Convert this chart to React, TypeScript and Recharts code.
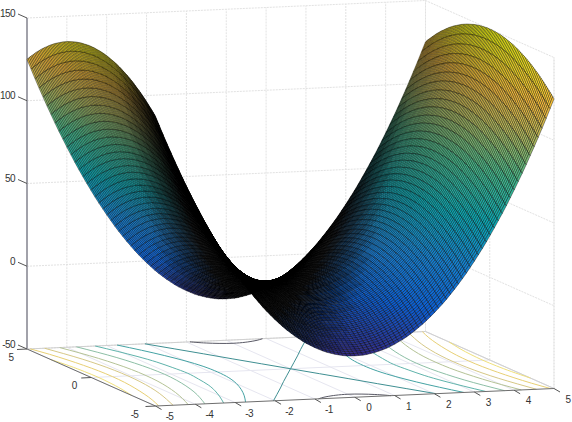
import { ComposedChart, Line, Scatter, XAxis, YAxis } from "recharts";

// grid positions of the mesh, read along the x and y axes
const meshSteps = [
  -5, -4.9, -4.8, -4.7, -4.6, -4.5, -4.4, -4.3, -4.2, -4.1, -4, -3.9, -3.8, -3.7, -3.6, -3.5, -3.4,
  -3.3, -3.2, -3.1, -3, -2.9, -2.8, -2.7, -2.6, -2.5, -2.4, -2.3, -2.2, -2.1, -2, -1.9, -1.8, -1.7,
  -1.6, -1.5, -1.4, -1.3, -1.2, -1.1, -1, -0.9, -0.8, -0.7, -0.6, -0.5, -0.4, -0.3, -0.2, -0.1, 0,
  0.1, 0.2, 0.3, 0.4, 0.5, 0.6, 0.7, 0.8, 0.9, 1, 1.1, 1.2, 1.3, 1.4, 1.5, 1.6, 1.7, 1.8, 1.9, 2,
  2.1, 2.2, 2.3, 2.4, 2.5, 2.6, 2.7, 2.8, 2.9, 3, 3.1, 3.2, 3.3, 3.4, 3.5, 3.6, 3.7, 3.8, 3.9, 4,
  4.1, 4.2, 4.3, 4.4, 4.5, 4.6, 4.7, 4.8, 4.9, 5,
];

// height of the surface along y = 0, one value per mesh step in x
const heightAlongX = [
  150, 144.1, 138.2, 132.5, 127, 121.5, 116.2, 110.9, 105.8, 100.9, 96, 91.3, 86.6, 82.1, 77.8, 73.5,
  69.4, 65.3, 61.4, 57.7, 54, 50.5, 47, 43.7, 40.6, 37.5, 34.6, 31.7, 29, 26.5, 24, 21.7, 19.4, 17.3,
  15.4, 13.5, 11.8, 10.1, 8.6, 7.3, 6, 4.9, 3.8, 2.9, 2.2, 1.5, 1, 0.5, 0.2, 0.1, 0,
  0.1, 0.2, 0.5, 1, 1.5, 2.2, 2.9, 3.8, 4.9, 6, 7.3, 8.6, 10.1, 11.8, 13.5, 15.4, 17.3, 19.4, 21.7,
  24, 26.5, 29, 31.7, 34.6, 37.5, 40.6, 43.7, 47, 50.5, 54, 57.7, 61.4, 65.3, 69.4, 73.5, 77.8, 82.1,
  86.6, 91.3, 96, 100.9, 105.8, 110.9, 116.2, 121.5, 127, 132.5, 138.2, 144.1, 150,
];

// drop of the surface along x = 0, one value per mesh step in y
const dropAlongY = [
  -25, -24, -23, -22.1, -21.2, -20.3, -19.4, -18.5, -17.6, -16.8, -16, -15.2, -14.4, -13.7, -13, -12.3,
  -11.6, -10.9, -10.2, -9.6, -9, -8.4, -7.8, -7.3, -6.8, -6.3, -5.8, -5.3, -4.8, -4.4, -4, -3.6, -3.2,
  -2.9, -2.6, -2.3, -2, -1.7, -1.4, -1.2, -1, -0.8, -0.6, -0.5, -0.4, -0.3, -0.2, -0.1, 0, 0, 0,
  0, 0, -0.1, -0.2, -0.3, -0.4, -0.5, -0.6, -0.8, -1, -1.2, -1.4, -1.7, -2, -2.3, -2.6, -2.9, -3.2,
  -3.6, -4, -4.4, -4.8, -5.3, -5.8, -6.3, -6.8, -7.3, -7.8, -8.4, -9, -9.6, -10.2, -10.9, -11.6, -12.3,
  -13, -13.7, -14.4, -15.2, -16, -16.8, -17.6, -18.5, -19.4, -20.3, -21.2, -22.1, -23, -24, -25,
];

const xTicks = [-5, -4, -3, -2, -1, 0, 1, 2, 3, 4, 5];
const yTicks = [-5, 0, 5];
const yLabelShift = [-21, -17, -16];
const zTicks = [-50, 0, 50, 100, 150];

// contour branches on the floor: half width in x at each y stop
const contourY = [-5, -4, -3, -2, -1, 0, 1, 2, 3, 4, 5];
const contour0 = [2.04, 1.63, 1.22, 0.82, 0.41, 0, 0.41, 0.82, 1.22, 1.63, 2.04];
const contour20 = [2.74, 2.45, 2.2, 2, 1.87, 1.83, 1.87, 2, 2.2, 2.45, 2.74];
const contour40 = [3.29, 3.06, 2.86, 2.71, 2.63, 2.58, 2.63, 2.71, 2.86, 3.06, 3.29];
const contour60 = [3.76, 3.56, 3.39, 3.27, 3.19, 3.16, 3.19, 3.27, 3.39, 3.56, 3.76];
const contour80 = [4.18, 4, 3.85, 3.74, 3.67, 3.65, 3.67, 3.74, 3.85, 4, 4.18];
const contour100 = [4.56, 4.4, 4.26, 4.16, 4.1, 4.08, 4.1, 4.16, 4.26, 4.4, 4.56];
const contour120 = [4.92, 4.76, 4.64, 4.55, 4.49, 4.47, 4.49, 4.55, 4.64, 4.76, 4.92];
const contour140Y = [-3.16, -2, -1, 0, 1, 2, 3.16];
const contour140 = [5, 4.9, 4.85, 4.83, 4.85, 4.9, 5];
const arcX = [-0.91, -0.6, 0, 0.6, 0.91];
const arcY = [5, 4.7, 4.47, 4.7, 5];

const parula: [number, number, number, number][] = [
  [0, 53, 42, 135],
  [0.15, 10, 95, 215],
  [0.3, 20, 130, 212],
  [0.45, 10, 170, 180],
  [0.6, 70, 188, 140],
  [0.75, 190, 188, 90],
  [0.85, 250, 190, 60],
  [1, 249, 251, 20],
];

// shade goes to 0 where the mesh is so squeezed that only its black edges show
function colorOf(z: number, shade: number) {
  const t = Math.min(1, Math.max(0, (z + 25) / 175));
  let i = 0;
  while (i < parula.length - 2 && parula[i + 1][0] < t) i++;
  const a = parula[i];
  const b = parula[i + 1];
  const k = (t - a[0]) / (b[0] - a[0]);
  const mix = (n: number) => Math.round((a[n] + (b[n] - a[n]) * k) * shade);
  return `rgb(${mix(1)},${mix(2)},${mix(3)})`;
}

const W = 572;
const H = 422;

// orthographic view of the plot box, in chart units
function project(x: number, y: number, z: number) {
  const u = 27 + (x + 5) * 39.85 + (5 - y) * 12.85;
  const top = 349 - (x + 5) * 1.75 + (5 - y) * 5.7 - (z + 50) * 1.655;
  return { u, v: H - top };
}

type Cell = { u: number; v: number; d: string; fill: string };

function buildCells() {
  const cells: Cell[] = [];
  const last = meshSteps.length - 1;
  // far corner first so that nearer cells paint over the fold
  for (let j = last; j > 0; j--) {
    for (let i = last; i > 0; i--) {
      const zAt = (a: number, b: number) => heightAlongX[a] + dropAlongY[b];
      const p0 = project(meshSteps[i], meshSteps[j], zAt(i, j));
      const p1 = project(meshSteps[i - 1], meshSteps[j], zAt(i - 1, j));
      const p2 = project(meshSteps[i - 1], meshSteps[j - 1], zAt(i - 1, j - 1));
      const p3 = project(meshSteps[i], meshSteps[j - 1], zAt(i, j - 1));
      const rel = (p: { u: number; v: number }) => `${(p.u - p0.u).toFixed(2)} ${(p0.v - p.v).toFixed(2)}`;
      const area = Math.abs((p2.u - p0.u) * (p3.v - p1.v) - (p3.u - p1.u) * (p2.v - p0.v)) / 2;
      cells.push({
        u: p0.u,
        v: p0.v,
        d: `M0 0L${rel(p1)}L${rel(p2)}L${rel(p3)}Z`,
        fill: colorOf(zAt(i, j), Math.min(1, Math.max(0, (area - 3.5) / 4.5))),
      });
    }
  }
  return cells;
}

const cells = buildCells();

const CellShape = (props: any) => (
  <path
    transform={`translate(${props.cx},${props.cy})`}
    d={props.payload.d}
    fill={props.payload.fill}
    stroke="#000"
    strokeWidth={0.42}
  />
);

const LabelShape = (props: any) => (
  <text
    x={props.cx + props.payload.dx}
    y={props.cy + props.payload.dy}
    textAnchor={props.payload.anchor}
    dominantBaseline="middle"
    fontSize={10}
    letterSpacing={-0.6}
    fontFamily="Liberation Sans"
    fill="#333"
  >
    {props.payload.text}
  </text>
);

const seg = (a: number[], b: number[]) => [project(a[0], a[1], a[2]), project(b[0], b[1], b[2])];

const gridLines = [
  ...xTicks.map((x) => seg([x, 5, -50], [x, 5, 150])),
  ...zTicks.map((z) => seg([-5, 5, z], [5, 5, z])),
  ...zTicks.map((z) => seg([5, 5, z], [5, -5, z])),
  ...yTicks.map((y) => seg([5, y, -50], [5, y, 150])),
  seg([5, -5, -50], [5, -5, 150]),
];
const floorLines = [...xTicks.map((x) => seg([x, 5, -50], [x, -5, -50])), seg([-5, 0, -50], [5, 0, -50])];

const tickMark = (p: { u: number; v: number }, du: number, dv: number) => [p, { u: p.u + du, v: p.v + dv }];
const tickMarks = [
  ...xTicks.map((x) => tickMark(project(x, -5, -50), 6, -3.5)),
  ...yTicks.map((y) => tickMark(project(-5, y, -50), -10, -0.5)),
  ...zTicks.map((z) => tickMark(project(-5, 5, z), -9, 4)),
];

const labels = [
  ...xTicks.map((x) => ({ ...project(x, -5, -50), text: String(x), dx: 14, dy: 11.5, anchor: "middle" })),
  ...yTicks.map((y, i) => ({ ...project(-5, y, -50), text: String(y), dx: yLabelShift[i], dy: 9, anchor: "middle" })),
  ...zTicks.map((z) => ({ ...project(-5, 5, z), text: String(z), dx: -12, dy: -4, anchor: "end" })),
];

const floorPath = (xs: number[], ys: number[]) => xs.map((x, i) => project(x, ys[i], -50));
const contours = [
  { w: contour0, c: "#3f8f92", t: "linear" },
  { w: contour20, c: "#45a3a4", t: "natural" },
  { w: contour40, c: "#5fb3ab", t: "natural" },
  { w: contour60, c: "#8dbfa6", t: "natural" },
  { w: contour80, c: "#b5c396", t: "natural" },
  { w: contour100, c: "#d6c887", t: "natural" },
  { w: contour120, c: "#e8d074", t: "natural" },
].flatMap(({ w, c, t }) => [
  { pts: floorPath(w.map((x) => -x), contourY), c, t },
  { pts: floorPath(w, contourY), c, t },
]);
const contourEdges = [
  { pts: floorPath(contour140.map((x) => -x), contour140Y), c: "#f0e07a", t: "natural" },
  { pts: floorPath(contour140, contour140Y), c: "#f0e07a", t: "natural" },
  { pts: floorPath(arcX, arcY), c: "#5a5a66", t: "natural" },
  { pts: floorPath(arcX, arcY.map((y) => -y)), c: "#5a5a66", t: "natural" },
];

const boxEdges = [
  seg([-5, 5, -50], [5, 5, -50]),
  seg([5, 5, -50], [5, -5, -50]),
];
const axisEdges = [seg([-5, 5, -50], [-5, -5, -50]), seg([-5, -5, -50], [5, -5, -50])];
const zAxisEdge = seg([-5, 5, -50], [-5, 5, 150]);

const plain = { dataKey: "v", dot: false, activeDot: false, isAnimationActive: false, legendType: "none" as const };

export default function App() {
  return (
    <div style={{ position: "absolute", left: 0, top: 0, width: W, height: H }}>
      <ComposedChart width={W} height={H} margin={{ top: 0, right: 0, bottom: 0, left: 0 }} accessibilityLayer={false}>
        <XAxis type="number" dataKey="u" domain={[0, W]} hide />
        <YAxis type="number" dataKey="v" domain={[0, H]} hide />
        {gridLines.map((d, i) => (
          <Line key={`g${i}`} {...plain} data={d} stroke="#e2e2e2" strokeWidth={1} strokeDasharray="2 1" />
        ))}
        {floorLines.map((d, i) => (
          <Line key={`f${i}`} {...plain} data={d} stroke="#e6e6f0" strokeWidth={1} />
        ))}
        {boxEdges.map((d, i) => (
          <Line key={`b${i}`} {...plain} data={d} stroke="#d0d0d0" strokeWidth={1} />
        ))}
        {[...contours, ...contourEdges].map((k, i) => (
          <Line key={`c${i}`} {...plain} data={k.pts} type={k.t as any} stroke={k.c} strokeWidth={1} />
        ))}
        {axisEdges.map((d, i) => (
          <Line key={`a${i}`} {...plain} data={d} stroke="#6e6e6e" strokeWidth={1} />
        ))}
        <Line {...plain} data={zAxisEdge} stroke="#a2a2aa" strokeWidth={2} />
        {tickMarks.map((d, i) => (
          <Line key={`t${i}`} {...plain} data={d} stroke="#555" strokeWidth={1} />
        ))}
        <Scatter data={cells} dataKey="v" shape={CellShape} isAnimationActive={false} />
        <Scatter data={labels} dataKey="v" shape={LabelShape} isAnimationActive={false} />
      </ComposedChart>
    </div>
  );
}
